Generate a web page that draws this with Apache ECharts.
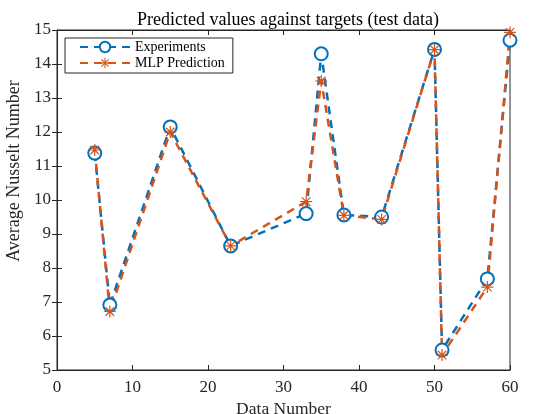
<!DOCTYPE html>
<html>
<head>
<meta charset="utf-8">
<script src="https://cdn.jsdelivr.net/npm/echarts@6/dist/echarts.min.js"></script>
<style>
html,body{margin:0;padding:0;background:#fff;}
#chart{width:554px;height:414px;}
</style>
</head>
<body>
<div id="chart"></div>
<script>
// Sample indices of the test set
const dataNumbers = [5, 7, 15, 23, 33, 35, 38, 43, 50, 51, 57, 60];
// Measured Nusselt numbers
const experiments = [11.38, 6.91, 12.15, 8.65, 9.6, 14.3, 9.56, 9.5, 14.43, 5.59, 7.68, 14.7];
// Network predictions
const mlpPrediction = [11.47, 6.72, 12.0, 8.65, 9.95, 13.5, 9.55, 9.43, 14.42, 5.44, 7.44, 14.93];
const xTicks = [0, 10, 20, 30, 40, 50, 60];
const yTicks = [5, 6, 7, 8, 9, 10, 11, 12, 13, 14, 15];

const blue = '#0072BD';
const orange = '#D95319';
const font = '"Liberation Serif", "Times New Roman", serif';
// eight-armed asterisk marker
const asterisk = 'path://M9,0 L11,0 L11,7.6 L16.4,2.2 L17.8,3.6 L12.4,9 L20,9 L20,11 L12.4,11 L17.8,16.4 L16.4,17.8 L11,12.4 L11,20 L9,20 L9,12.4 L3.6,17.8 L2.2,16.4 L7.6,11 L0,11 L0,9 L7.6,9 L2.2,3.6 L3.6,2.2 L9,7.6 Z';

const pairs = (ys) => dataNumbers.map((x, i) => [x, ys[i]]);

const chart = echarts.init(document.getElementById('chart'));
const axisTxt = { color: '#262626', fontFamily: font, fontSize: 17 };
const tickStyle = { inside: true, length: 5, lineStyle: { color: '#262626' } };
chart.setOption({
  backgroundColor: '#fff',
  animation: false,
  title: {
    text: 'Predicted values against targets (test data)',
    left: 283, top: 6, textAlign: 'center',
    textStyle: { fontFamily: font, fontSize: 18, fontWeight: 'normal', color: '#000' }
  },
  grid: {
    left: 57, right: 44, top: 30, bottom: 44,
    containLabel: false, outerBoundsMode: 'none',
    show: true, borderColor: '#262626', borderWidth: 1
  },
  legend: {
    left: 65, top: 38, orient: 'vertical',
    itemWidth: 50, itemHeight: 13, itemGap: 2,
    padding: [2, 8, 3, 14],
    backgroundColor: '#fff', borderColor: '#262626', borderWidth: 1, borderRadius: 0,
    textStyle: { fontFamily: font, fontSize: 14, color: '#000' },
    data: ['Experiments', 'MLP Prediction']
  },
  xAxis: [{
    type: 'value', min: 0, max: 60, interval: 10,
    name: 'Data Number', nameLocation: 'middle', nameGap: 25,
    nameTextStyle: { fontFamily: font, fontSize: 17.5, color: '#262626' },
    axisLine: { show: true, lineStyle: { color: '#262626' } },
    axisTick: tickStyle,
    axisLabel: Object.assign({ margin: 9 }, axisTxt),
    splitLine: { show: false }
  }, {
    type: 'value', min: 0, max: 60, interval: 10, position: 'top',
    axisLine: { show: true, lineStyle: { color: '#262626' } },
    axisTick: tickStyle,
    axisLabel: { show: false }, splitLine: { show: false }
  }],
  yAxis: [{
    type: 'value', min: 5, max: 15, interval: 1,
    name: 'Average Nusselt Number', nameLocation: 'middle', nameGap: 25,
    nameTextStyle: { fontFamily: font, fontSize: 18, color: '#262626', padding: [0, 0, 0, 58] },
    axisLine: { show: true, lineStyle: { color: '#262626' } },
    axisTick: tickStyle,
    axisLabel: Object.assign({ margin: 6 }, axisTxt),
    splitLine: { show: false }
  }, {
    type: 'value', min: 5, max: 15, interval: 1, position: 'right',
    axisLine: { show: true, lineStyle: { color: '#262626' } },
    axisTick: tickStyle,
    axisLabel: { show: false }, splitLine: { show: false }
  }],
  series: [{
    name: 'Experiments', type: 'line',
    data: pairs(experiments),
    symbol: 'emptyCircle', symbolSize: 13,
    itemStyle: { color: blue, borderWidth: 2.5 },
    lineStyle: { color: blue, width: 2.5, type: [8, 6] }
  }, {
    name: 'MLP Prediction', type: 'line',
    data: pairs(mlpPrediction),
    symbol: asterisk, symbolSize: 12,
    itemStyle: { color: orange },
    lineStyle: { color: orange, width: 2.5, type: [8, 6] }
  }]
});
</script>
</body>
</html>
